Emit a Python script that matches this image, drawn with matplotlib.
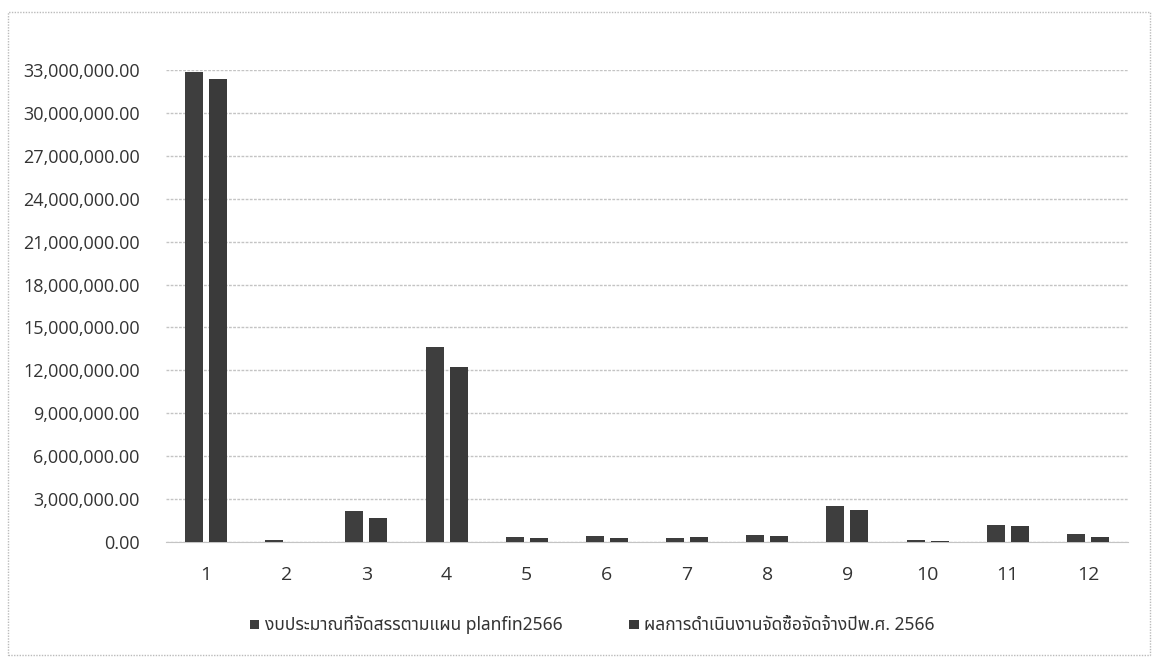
import matplotlib
matplotlib.use("Agg")
import matplotlib.pyplot as plt
from matplotlib import font_manager
from matplotlib.ft2font import FT2Font
from matplotlib.patches import Rectangle
from matplotlib.ticker import FuncFormatter, MultipleLocator
import numpy as np

categories = ["1", "2", "3", "4", "5", "6", "7", "8", "9", "10", "11", "12"]
plan_budget = [32880000, 150000, 2170000, 13650000, 350000, 440000, 300000, 500000, 2500000, 130000, 1200000, 530000]
actual_result = [32400000, 20000, 1680000, 12250000, 280000, 300000, 330000, 420000, 2260000, 50000, 1130000, 380000]
series_names = ["งบประมาณที่จัดสรรตามแผน planfin2566", "ผลการดำเนินงานจัดซื้อจัดจ้างปีพ.ศ. 2566"]

# find a font family that covers Thai
thai_family = None
preferred = []
for f in font_manager.fontManager.ttflist:
    try:
        cmap = FT2Font(f.fname).get_charmap()
    except Exception:
        continue
    if 0x0E07 in cmap and 0x0E1B in cmap:
        preferred.append(f.name)
for cand in ["Noto Sans Thai", "Noto Sans Thai UI", "Noto Sans", "DejaVu Sans"]:
    if cand in preferred:
        thai_family = cand
        break
if thai_family is None and preferred:
    thai_family = preferred[0]
legend_fams = ([thai_family] if thai_family else []) + ["Open Sans", "DejaVu Sans"]

plt.rcParams['font.family'] = ["Open Sans", "DejaVu Sans"]

fig = plt.figure(figsize=(11.56, 6.62), dpi=100)
ax = fig.add_axes([166/1156, 1-542/662, (1128-166)/1156, (542-70)/662])

x = np.arange(len(categories))
w = 0.225
off = 0.15
ax.bar(x - off, plan_budget, w, color="#3e3e3e", label=series_names[0], zorder=3)
ax.bar(x + off, actual_result, w, color="#3a3a3a", label=series_names[1], zorder=3)

ax.set_xlim(-0.5, len(categories) - 0.5)
ax.set_ylim(0, 33000000)
ax.yaxis.set_major_locator(MultipleLocator(3000000))
ax.yaxis.set_major_formatter(FuncFormatter(lambda v, p: f"{v:,.2f}"))
ax.set_xticks(x)
ax.set_xticklabels(categories)
ax.grid(axis="y", color="#c4c4c4", linewidth=1, linestyle=(0, (2, 1)), zorder=0)
for s in ["top", "right", "left"]:
    ax.spines[s].set_visible(False)
ax.spines["bottom"].set_color("#c4c4c4")
ax.tick_params(axis="both", length=0)
ax.tick_params(axis="y", labelsize=13, pad=19, colors="#333333")
ax.tick_params(axis="x", labelsize=14, pad=17, colors="#333333")

leg = fig.legend(loc="center", bbox_to_anchor=(592/1156, 1-625/662), ncol=2, frameon=False,
                 prop={"family": legend_fams, "size": 12.5}, handlelength=0.55, handleheight=0.45,
                 handletextpad=0.3, columnspacing=3.85)
for t in leg.get_texts():
    t.set_color("#333333")

fig.patches.append(Rectangle((8/1156, 1-655/662), (1150-8)/1156, (655-12)/662, transform=fig.transFigure,
                             fill=False, edgecolor="#bbbbbb", linewidth=1, linestyle=(0, (1, 1))))

fig.savefig("out.png", dpi=100)
